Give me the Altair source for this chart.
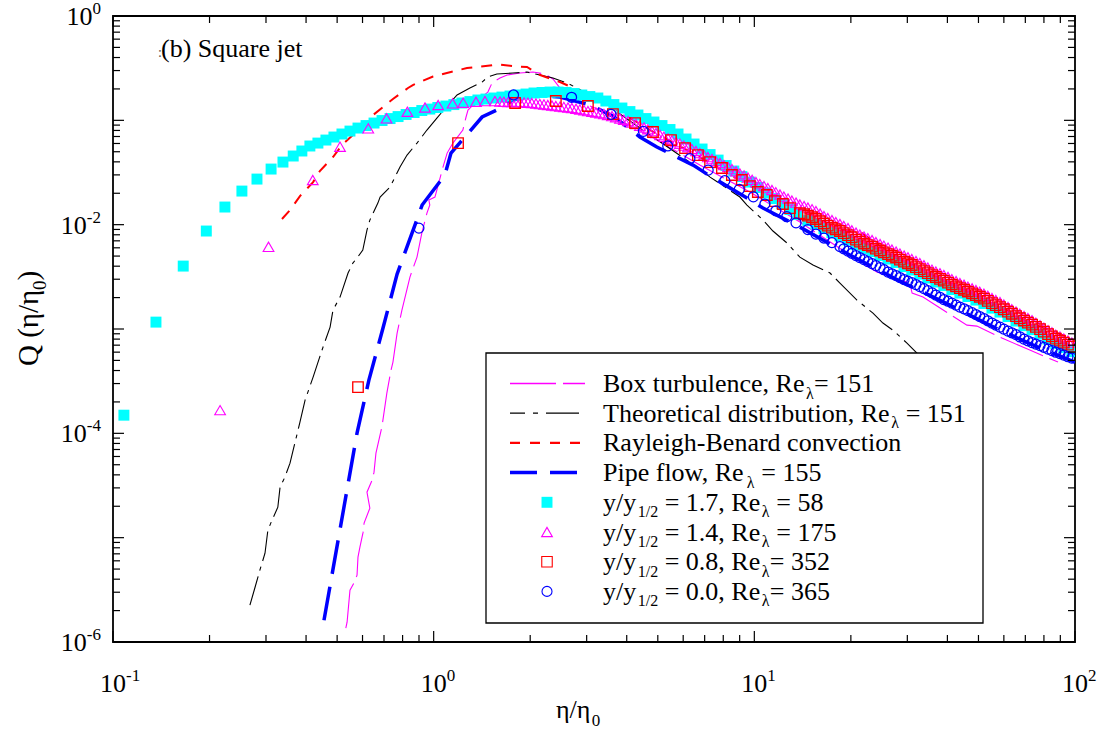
import altair as alt
import pandas as pd

# ---------------------------------------------------------------------------
# Values, stored as log10(eta/eta0), log10(Q)
# ---------------------------------------------------------------------------
# eta positions (log10) at which the dense marker bands were read
dense_log_eta = [0.207, 0.219, 0.232, 0.244, 0.257, 0.269, 0.282, 0.294, 0.306, 0.319,
                 0.331, 0.344, 0.356, 0.369, 0.381, 0.394, 0.406, 0.419, 0.431, 0.444,
                 0.456, 0.469, 0.481, 0.494, 0.506, 0.519, 0.531, 0.543, 0.556, 0.568,
                 0.581, 0.593, 0.606, 0.618, 0.631, 0.643, 0.656, 0.668, 0.681, 0.693,
                 0.706, 0.718, 0.731, 0.743, 0.756, 0.768, 0.780, 0.793, 0.805, 0.818,
                 0.830, 0.843, 0.855, 0.868, 0.880, 0.893, 0.905, 0.918, 0.930, 0.943,
                 0.955, 0.968, 0.980, 0.993, 1.005, 1.017, 1.030, 1.042, 1.055, 1.067,
                 1.080, 1.092, 1.105, 1.117, 1.130, 1.142, 1.155, 1.167, 1.180, 1.192,
                 1.205, 1.217, 1.229, 1.242, 1.254, 1.267, 1.279, 1.292, 1.304, 1.317,
                 1.329, 1.342, 1.354, 1.367, 1.379, 1.392, 1.404, 1.417, 1.429, 1.442,
                 1.454, 1.467, 1.479, 1.491, 1.504, 1.516, 1.529, 1.541, 1.554, 1.566,
                 1.579, 1.591, 1.604, 1.616, 1.629, 1.641, 1.654, 1.666, 1.679, 1.691,
                 1.703, 1.716, 1.728, 1.741, 1.753, 1.766, 1.778, 1.791, 1.803, 1.816,
                 1.828, 1.841, 1.853, 1.866, 1.878, 1.891, 1.903, 1.916, 1.928, 1.940,
                 1.953, 1.965, 1.978, 1.990]

# y/y1/2 = 1.7 (cyan filled squares)
cyan_head = [(-0.966, -3.826), (-0.866, -2.934), (-0.781, -2.397), (-0.709, -2.061), (-0.651, -1.831),
             (-0.598, -1.678), (-0.551, -1.563), (-0.507, -1.467), (-0.470, -1.400), (-0.438, -1.342),
             (-0.411, -1.294), (-0.386, -1.246), (-0.361, -1.218), (-0.336, -1.189), (-0.311, -1.160),
             (-0.286, -1.131), (-0.261, -1.103), (-0.236, -1.074), (-0.211, -1.050), (-0.186, -1.026),
             (-0.161, -1.002), (-0.136, -0.983), (-0.111, -0.964), (-0.086, -0.944), (-0.061, -0.925),
             (-0.037, -0.906), (-0.012, -0.892), (0.013, -0.877), (0.038, -0.863), (0.063, -0.849),
             (0.088, -0.834), (0.113, -0.820), (0.138, -0.805), (0.163, -0.796), (0.188, -0.786),
             (0.213, -0.777), (0.238, -0.767), (0.263, -0.757), (0.288, -0.748), (0.313, -0.738),
             (0.338, -0.733), (0.363, -0.729), (0.388, -0.729), (0.413, -0.733), (0.438, -0.743),
             (0.462, -0.757), (0.487, -0.772), (0.512, -0.786), (0.537, -0.815), (0.562, -0.849),
             (0.587, -0.882), (0.612, -0.916), (0.637, -0.949), (0.662, -0.983), (0.687, -1.016),
             (0.712, -1.050), (0.737, -1.088), (0.762, -1.131), (0.787, -1.179), (0.812, -1.227),
             (0.837, -1.275), (0.862, -1.328), (0.887, -1.381), (0.912, -1.433), (0.936, -1.486),
             (0.961, -1.539), (0.986, -1.592), (1.011, -1.644), (1.036, -1.697), (1.061, -1.750),
             (1.086, -1.802), (1.111, -1.855), (1.136, -1.903)]
# read at every second dense eta position from log10(eta) = 1.167 on
cyan_tail_log_q = [-1.961, -1.994, -2.037, -2.076, -2.109, -2.148, -2.191, -2.229, -2.258, -2.296,
                   -2.330, -2.363, -2.402, -2.435, -2.474, -2.512, -2.550, -2.584, -2.622, -2.656,
                   -2.689, -2.723, -2.756, -2.800, -2.838, -2.881, -2.924, -2.968, -3.006, -3.049,
                   -3.097, -3.140, -3.178, -3.217]

# y/y1/2 = 1.4 (magenta open triangles)
mag_head = [(-0.666, -3.778), (-0.515, -2.212), (-0.377, -1.572), (-0.292, -1.253), (-0.204, -1.077),
            (-0.147, -0.981), (-0.082, -0.918), (-0.027, -0.877), (0.014, -0.853), (0.059, -0.837),
            (0.092, -0.831), (0.132, -0.822), (0.160, -0.815), (0.191, -0.815)]
mag_dense_log_q = [-0.820, -0.823, -0.825, -0.825, -0.825, -0.826, -0.829, -0.831, -0.834, -0.839,
                   -0.844, -0.848, -0.853, -0.858, -0.863, -0.868, -0.872, -0.877, -0.882, -0.889,
                   -0.896, -0.903, -0.911, -0.918, -0.925, -0.932, -0.940, -0.949, -0.959, -0.970,
                   -0.983, -0.994, -1.007, -1.021, -1.036, -1.052, -1.069, -1.085, -1.103, -1.122,
                   -1.141, -1.157, -1.174, -1.191, -1.208, -1.224, -1.242, -1.258, -1.275, -1.294,
                   -1.314, -1.333, -1.352, -1.371, -1.390, -1.409, -1.429, -1.448, -1.467, -1.488,
                   -1.510, -1.529, -1.548, -1.570, -1.592, -1.611, -1.630, -1.649, -1.668, -1.689,
                   -1.711, -1.731, -1.750, -1.769, -1.788, -1.807, -1.822, -1.836, -1.852, -1.870,
                   -1.894, -1.918, -1.937, -1.956, -1.975, -1.994, -2.013, -2.033, -2.054, -2.076,
                   -2.095, -2.114, -2.130, -2.148, -2.167, -2.186, -2.202, -2.220, -2.239, -2.258,
                   -2.277, -2.296, -2.313, -2.330, -2.349, -2.368, -2.389, -2.411, -2.431, -2.450,
                   -2.466, -2.483, -2.502, -2.522, -2.541, -2.560, -2.576, -2.594, -2.610, -2.627,
                   -2.643, -2.661, -2.682, -2.704, -2.723, -2.742, -2.766, -2.790, -2.811, -2.833,
                   -2.854, -2.876, -2.895, -2.915, -2.939, -2.963, -2.987, -3.011, -3.032, -3.054,
                   -3.073, -3.092, -3.111, -3.130]

# y/y1/2 = 0.8 (red open squares)
red_head = [(-0.236, -3.557), (0.076, -1.218), (0.254, -0.834), (0.381, -0.815), (0.481, -0.863),
            (0.559, -0.940), (0.628, -1.026), (0.684, -1.112), (0.740, -1.189), (0.784, -1.266),
            (0.824, -1.333), (0.862, -1.400), (0.899, -1.457), (0.930, -1.524), (0.961, -1.572),
            (0.986, -1.630), (1.011, -1.687), (1.039, -1.716), (1.064, -1.774), (1.089, -1.802),
            (1.111, -1.841), (1.142, -1.889)]
# read at the dense eta positions from log10(eta) = 1.155 on
red_tail_log_q = [-1.900, -1.913, -1.929, -1.946, -1.967, -1.989, -2.009, -2.028, -2.044, -2.061,
                  -2.081, -2.100, -2.121, -2.143, -2.162, -2.181, -2.196, -2.210, -2.229, -2.248,
                  -2.265, -2.282, -2.298, -2.315, -2.335, -2.354, -2.370, -2.387, -2.407, -2.426,
                  -2.445, -2.464, -2.483, -2.502, -2.519, -2.536, -2.555, -2.574, -2.591, -2.608,
                  -2.624, -2.641, -2.658, -2.675, -2.691, -2.709, -2.730, -2.752, -2.771, -2.790,
                  -2.811, -2.833, -2.854, -2.876, -2.897, -2.919, -2.939, -2.958, -2.979, -3.001,
                  -3.025, -3.049, -3.070, -3.092, -3.111, -3.130, -3.150, -3.169]

# y/y1/2 = 0.0 (blue open circles)
blue_head = [(-0.046, -2.033), (0.249, -0.757), (0.430, -0.779), (0.553, -0.942), (0.654, -1.105),
             (0.730, -1.246), (0.799, -1.368), (0.856, -1.477), (0.908, -1.579), (0.953, -1.662),
             (0.997, -1.733), (1.033, -1.802), (1.067, -1.867), (1.101, -1.924), (1.130, -1.982),
             (1.167, -2.047), (1.192, -2.090), (1.217, -2.128), (1.242, -2.172), (1.267, -2.210)]
# read at the dense eta positions from log10(eta) = 1.279 on
blue_tail_log_q = [-2.231, -2.253, -2.274, -2.296, -2.315, -2.335, -2.354, -2.373, -2.392, -2.411,
                   -2.432, -2.454, -2.471, -2.488, -2.507, -2.526, -2.541, -2.555, -2.574, -2.594,
                   -2.613, -2.632, -2.653, -2.675, -2.696, -2.718, -2.734, -2.752, -2.771, -2.790,
                   -2.806, -2.824, -2.843, -2.862, -2.881, -2.900, -2.921, -2.943, -2.963, -2.982,
                   -3.001, -3.020, -3.036, -3.054, -3.075, -3.097, -3.113, -3.130, -3.145, -3.159,
                   -3.175, -3.193, -3.207, -3.222, -3.236, -3.250, -3.265, -3.279]

# Box turbulence, Re_lambda = 151 (thin magenta, long dashes)
box_pts = [(-0.274, -5.868), (-0.270, -5.810), (-0.261, -5.503), (-0.249, -5.436), (-0.239, -5.360),
           (-0.236, -5.187), (-0.230, -5.091), (-0.220, -4.947), (-0.217, -4.861), (-0.199, -4.717),
           (-0.208, -4.564), (-0.192, -4.449), (-0.186, -4.372), (-0.180, -4.190), (-0.161, -3.931),
           (-0.146, -3.615), (-0.133, -3.394), (-0.127, -3.317), (-0.114, -3.039), (-0.099, -2.819),
           (-0.074, -2.502), (-0.052, -2.311), (-0.037, -2.081), (-0.021, -1.889), (-0.012, -1.812),
           (-0.015, -1.764), (0.004, -1.735), (0.029, -1.448), (0.042, -1.314), (0.060, -1.218),
           (0.091, -1.093), (0.101, -0.968), (0.107, -0.901), (0.138, -0.805), (0.169, -0.729),
           (0.182, -0.642), (0.207, -0.594), (0.229, -0.566), (0.269, -0.547), (0.310, -0.537),
           (0.347, -0.556), (0.372, -0.604), (0.394, -0.690), (0.441, -0.805), (0.519, -0.901),
           (0.675, -1.151), (0.830, -1.429), (0.986, -1.687), (1.142, -1.975), (1.298, -2.291),
           (1.382, -2.454), (1.485, -2.560), (1.492, -2.656), (1.526, -2.694), (1.663, -2.963),
           (1.694, -2.972), (1.772, -3.087), (1.859, -3.202), (1.947, -3.317)]

# Theoretical distribution, Re_lambda = 151 (thin black dash-dot)
theo_pts = [(-0.573, -5.647), (-0.557, -5.475), (-0.542, -5.312), (-0.526, -5.149), (-0.517, -4.928),
            (-0.504, -4.832), (-0.486, -4.708), (-0.479, -4.516), (-0.464, -4.420), (-0.448, -4.286),
            (-0.417, -3.893), (-0.401, -3.682), (-0.376, -3.461), (-0.345, -3.173), (-0.323, -2.982),
            (-0.314, -2.819), (-0.292, -2.694), (-0.267, -2.464), (-0.252, -2.368), (-0.239, -2.320),
            (-0.221, -2.244), (-0.208, -2.052), (-0.199, -1.956), (-0.174, -1.793), (-0.167, -1.735),
            (-0.136, -1.640), (-0.105, -1.448), (-0.083, -1.333), (-0.052, -1.218), (-0.021, -1.093),
            (0.010, -0.978), (0.045, -0.853), (0.073, -0.757), (0.113, -0.690), (0.151, -0.633),
            (0.169, -0.585), (0.197, -0.556), (0.247, -0.547), (0.291, -0.537), (0.332, -0.566),
            (0.372, -0.594), (0.416, -0.642), (0.519, -0.805), (0.675, -1.141), (0.830, -1.467),
            (0.862, -1.544), (0.955, -1.735), (0.977, -1.812), (1.027, -1.956), (1.058, -2.061),
            (1.102, -2.176), (1.142, -2.311), (1.183, -2.387), (1.236, -2.464), (1.267, -2.560),
            (1.320, -2.723), (1.370, -2.848), (1.401, -2.943), (1.432, -3.011), (1.476, -3.135),
            (1.507, -3.231), (1.541, -3.413)]

# Rayleigh-Benard convection (red short dashes)
rb_pts = [(-0.473, -1.946), (-0.448, -1.860), (-0.417, -1.726), (-0.376, -1.592), (-0.355, -1.486),
          (-0.314, -1.352), (-0.283, -1.227), (-0.252, -1.141), (-0.199, -0.997), (-0.189, -0.949),
          (-0.127, -0.796), (-0.080, -0.690), (-0.065, -0.662), (-0.002, -0.580), (0.066, -0.527),
          (0.104, -0.499), (0.135, -0.489), (0.185, -0.470), (0.207, -0.465), (0.260, -0.484),
          (0.291, -0.489), (0.332, -0.566), (0.394, -0.633), (0.519, -0.805), (0.675, -1.093),
          (0.830, -1.352), (0.986, -1.630), (1.142, -1.860), (1.273, -2.052), (1.336, -2.081),
          (1.392, -2.205), (1.538, -2.464), (1.626, -2.579), (1.713, -2.723), (1.775, -2.790),
          (1.838, -2.915), (1.881, -2.963), (2.000, -3.106)]

# Pipe flow, Re_lambda = 155 (thick blue long dashes)
pipe_pts = [(-0.342, -5.791), (-0.239, -3.998), (-0.202, -3.490), (-0.158, -2.991), (-0.114, -2.474),
            (-0.055, -1.975), (-0.036, -1.812), (0.035, -1.524), (0.054, -1.314), (0.151, -0.968),
            (0.197, -0.901), (0.247, -0.805), (0.316, -0.757), (0.394, -0.777), (0.488, -0.853),
            (0.559, -0.959), (0.643, -1.160), (0.696, -1.256), (0.809, -1.429), (0.862, -1.534),
            (0.977, -1.745), (1.027, -1.841), (1.142, -2.023), (1.298, -2.291), (1.454, -2.541),
            (1.610, -2.771), (1.766, -3.011), (1.891, -3.183), (2.000, -3.317)]

# axis ticks and labels
x_major_ticks = [0.1, 1, 10, 100]
x_minor_ticks = [0.2, 0.3, 0.4, 0.5, 0.6, 0.7, 0.8, 0.9, 2, 3, 4, 5, 6, 7, 8, 9,
                 20, 30, 40, 50, 60, 70, 80, 90]
x_tick_exponents = ["-1", "0", "1", "2"]
y_major_ticks = [1e-6, 1e-5, 1e-4, 1e-3, 1e-2, 1e-1, 1]
minor_multipliers = [2, 3, 4, 5, 6, 7, 8, 9]
y_minor_ticks = [m * d for d in y_major_ticks[:-1] for m in minor_multipliers]
y_label_values = [1, 1e-2, 1e-4, 1e-6]
y_label_exponents = ["0", "-2", "-4", "-6"]

legend_rows = [
    [("Box turbulence, Re", "n"), ("λ", "s"), ("= 151", "n")],
    [("Theoretical distribution, Re", "n"), ("λ", "s"), (" = 151", "n")],
    [("Rayleigh-Benard convection", "n")],
    [("Pipe flow, Re", "n"), ("λ", "s"), (" = 155", "n")],
    [("y/y", "n"), ("1/2", "s"), (" = 1.7, Re", "n"), ("λ", "s"), (" = 58", "n")],
    [("y/y", "n"), ("1/2", "s"), (" = 1.4, Re", "n"), ("λ", "s"), (" = 175", "n")],
    [("y/y", "n"), ("1/2", "s"), (" = 0.8, Re", "n"), ("λ", "s"), ("= 352", "n")],
    [("y/y", "n"), ("1/2", "s"), (" = 0.0, Re", "n"), ("λ", "s"), ("= 365", "n")],
]

# ---------------------------------------------------------------------------
W, H = 962, 626
FONT = "Liberation Serif"
CYAN, MAGENTA, RED, BLUE = "#00FFFF", "#FF00FF", "#FF0000", "#0000FF"

xs = alt.Scale(type="log", domain=[0.1, 100], nice=False)
ys = alt.Scale(type="log", domain=[1e-6, 1], nice=False)


def X(f):
    return alt.X(f, type="quantitative", scale=xs, axis=None)


def Y(f):
    return alt.Y(f, type="quantitative", scale=ys, axis=None)


def frame(pairs):
    return pd.DataFrame({"eta": [10 ** a for a, b in pairs],
                         "q": [10 ** b for a, b in pairs],
                         "i": list(range(len(pairs)))})


def line(pairs, color, width, dash):
    return alt.Chart(frame(pairs)).mark_line(
        color=color, strokeWidth=width, strokeDash=dash, clip=True
    ).encode(x=X("eta"), y=Y("q"), order="i:Q")


def point_style(shape, color, filled, size, sw=1.1):
    if filled:
        return dict(shape=shape, filled=True, color=color, size=size, opacity=1, strokeWidth=0)
    return dict(shape=shape, filled=False, color=color, size=size, opacity=1, strokeWidth=sw)


def points(pairs, shape, color, filled, size, sw=1.1):
    return alt.Chart(frame(pairs)).mark_point(
        clip=True, **point_style(shape, color, filled, size, sw)
    ).encode(x=X("eta"), y=Y("q"))


TIMES = {' ': 250, '(': 333, ')': 333, ',': 250, '-': 333, '.': 250, '/': 278, '=': 564,
         'B': 667, 'P': 556, 'Q': 722, 'R': 667, 'T': 611, 'S': 556,
         'a': 444, 'b': 500, 'c': 444, 'd': 500, 'e': 444, 'f': 333, 'g': 500, 'h': 500,
         'i': 278, 'j': 278, 'l': 278, 'n': 500, 'o': 500, 'p': 500, 'q': 500, 'r': 333,
         's': 389, 't': 278, 'u': 500, 'v': 500, 'w': 722, 'x': 500, 'y': 500,
         'λ': 500, 'η': 520}


def tw(s, size):
    return sum(TIMES.get(c, 500) for c in s) * size / 1000.0


one = pd.DataFrame({"k": [0]})


def txt(s, x, y, size=26, align="left", angle=0, dx=0, dy=0, color="black"):
    mk = dict(text=s, font=FONT, fontSize=size, align=align, baseline="alphabetic", color=color)
    if angle:
        mk["angle"] = angle
    if dx:
        mk["dx"] = dx
    if dy:
        mk["dy"] = dy
    return alt.Chart(one).mark_text(**mk).encode(x=alt.value(x), y=alt.value(y))


def rich(pieces, x, y, size=26, sub=16, drop=6.5, gap=1.5):
    out, off = [], 0.0
    for s, kind in pieces:
        fs = size if kind == "n" else sub
        lead = len(s) - len(s.lstrip(" "))
        off += lead * 0.25 * fs
        if kind == "s":
            off += gap
        s = s.lstrip(" ")
        out.append(txt(s, x + off, y + (drop if kind == "s" else 0), fs))
        off += tw(s, fs)
    return out


def rich_rot(pieces, x, y, size=26, sub=17, drop=8):
    out, off = [], 0.0
    for s, kind in pieces:
        fs = size if kind == "n" else sub
        out.append(txt(s, x, y, fs, angle=270, dx=off, dy=(drop if kind == "s" else 0)))
        off += tw(s, fs)
    return out


layers = []

# curves
layers.append(line(box_pts, MAGENTA, 1.1, [46, 7]))
layers.append(line(theo_pts, "black", 1.1, [30, 6, 4, 6]))
layers.append(line(rb_pts, RED, 2.0, [11, 9]))
layers.append(line(pipe_pts, BLUE, 3.5, [34, 13]))

# markers
cyan_pts = cyan_head + list(zip(dense_log_eta[77::2], cyan_tail_log_q))
mag_pts = mag_head + list(zip(dense_log_eta, mag_dense_log_q))
red_pts = red_head + list(zip(dense_log_eta[76:], red_tail_log_q))
blue_pts = blue_head + list(zip(dense_log_eta[86:], blue_tail_log_q))
layers.append(points(cyan_pts, "square", CYAN, True, 120))
layers.append(points(mag_pts, "triangle-up", MAGENTA, False, 115))
layers.append(points(red_pts, "square", RED, False, 110, 1.35))
layers.append(points(blue_pts, "circle", BLUE, False, 100, 1.25))

# legend box
layers.append(alt.Chart(one).mark_rect(fill="white", stroke="black", strokeWidth=1.3).encode(
    x=alt.value(373), x2=alt.value(870), y=alt.value(337), y2=alt.value(607)))

LX0, LX1, LXM, LXT = 397, 472, 434, 490
row_base = [376 + 29.7 * k for k in range(8)]
row_mid = [b - 8.5 for b in row_base]
legend_lines = [(MAGENTA, 1.3, [46, 7], 0), ("black", 1.3, [33, 8, 5, 8], 18),
                (RED, 2.2, [10, 10], 0), (BLUE, 3.5, [27, 13], 0)]
for k, (c, w, d, o) in enumerate(legend_lines):
    mk = dict(color=c, strokeWidth=w, strokeDash=d)
    if o:
        mk["strokeDashOffset"] = o
    layers.append(alt.Chart(one).mark_rule(**mk).encode(
        x=alt.value(LX0), x2=alt.value(LX1), y=alt.value(row_mid[k])))
legend_marks = [("square", CYAN, True, 120), ("triangle-up", MAGENTA, False, 115),
                ("square", RED, False, 110), ("circle", BLUE, False, 100)]
for k, (shp, c, f, s) in enumerate(legend_marks):
    layers.append(alt.Chart(one).mark_point(**point_style(shp, c, f, s)).encode(
        x=alt.value(LXM), y=alt.value(row_mid[4 + k])))
for k, pieces in enumerate(legend_rows):
    layers += rich(pieces, LXT, row_base[k])

# ticks (inward, on all four sides)
for vals, ln in [(x_major_ticks, 11), (x_minor_ticks, 7)]:
    base = alt.Chart(pd.DataFrame({"t": vals})).mark_rule(color="black", strokeWidth=1.2)
    layers.append(base.encode(x=X("t"), y=alt.value(H), y2=alt.value(H - ln)))
    layers.append(base.encode(x=X("t"), y=alt.value(0), y2=alt.value(ln)))
for vals, ln in [(y_major_ticks, 11), (y_minor_ticks, 7)]:
    base = alt.Chart(pd.DataFrame({"t": vals})).mark_rule(color="black", strokeWidth=1.2)
    layers.append(base.encode(y=Y("t"), x=alt.value(0), x2=alt.value(ln)))
    layers.append(base.encode(y=Y("t"), x=alt.value(W), x2=alt.value(W - ln)))

# tick labels
for v, e in zip(x_major_ticks, x_tick_exponents):
    d = pd.DataFrame({"t": [v]})
    layers.append(alt.Chart(d).mark_text(text="10", font=FONT, fontSize=26, align="center",
                                         baseline="alphabetic").encode(x=X("t"), y=alt.value(676)))
    layers.append(alt.Chart(d).mark_text(text=e, font=FONT, fontSize=17, align="left", dx=13,
                                         baseline="alphabetic").encode(x=X("t"), y=alt.value(665)))
for v, e in zip(y_label_values, y_label_exponents):
    d = pd.DataFrame({"t": [v]})
    layers.append(alt.Chart(d).mark_text(text=e, font=FONT, fontSize=17, align="right", dy=-2,
                                         baseline="alphabetic").encode(y=Y("t"), x=alt.value(-12)))
    layers.append(alt.Chart(d).mark_text(text="10", font=FONT, fontSize=26, align="right", dy=9,
                                         baseline="alphabetic").encode(y=Y("t"), x=alt.value(-12 - tw(e, 17))))

# titles
layers += rich([("η/η", "n"), ("0", "s")], 443, 702, sub=17, drop=8)
layers += rich_rot([("Q (η/η", "n"), ("0", "s"), (")", "n")], -75, 350, size=29, sub=19, drop=8)
layers.append(txt(":", 45, 41, 14, color="#555555"))
layers.append(txt("(b) Square jet", 48, 41, 26))

chart = alt.layer(*layers).properties(
    width=W, height=H,
    autosize=alt.AutoSizeParams(type="none"),
    padding={"left": 113, "top": 16, "right": 25, "bottom": 96},
).configure_view(stroke="black", strokeWidth=1.8)

chart.save("out.html", embed_options={"renderer": "svg", "actions": False})
